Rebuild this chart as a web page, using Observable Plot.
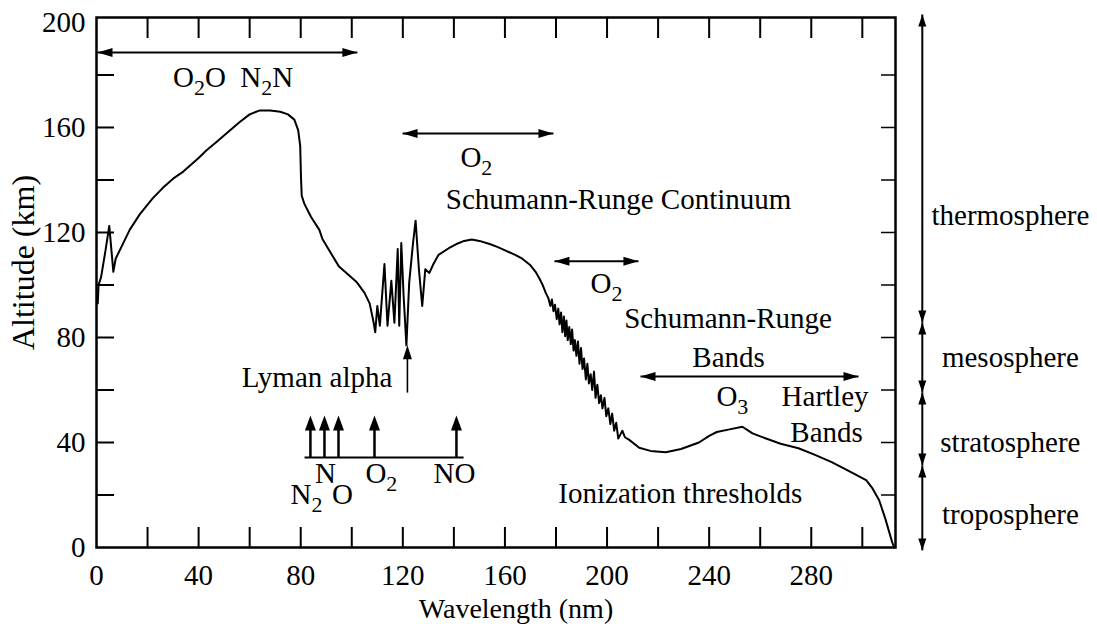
<!DOCTYPE html>
<html><head><meta charset="utf-8">
<script src="https://cdn.jsdelivr.net/npm/d3@7"></script>
<script src="https://cdn.jsdelivr.net/npm/@observablehq/plot@0.6"></script>
<style>html,body{margin:0;padding:0;background:#fff;overflow:hidden} svg{display:block}</style>
</head><body><div id="chart"></div>
<script>
// ---- data ----
const curveWavelength = [0.5,0.8,1.8,3.5,5.0,6.6,7.5,10,13,17,22,26,30,34,37,40,43,47,52,56,60,64,68,72,75,77.5,79,79.8,80.1,80.4,81.4,84,87.3,88.5,95,102,105,107,108.5,109.2,
  110,111,112.8,114,115.5,116.7,118,118.6,119.4,120.3,121.4,122.5,124,125,126.3,127.6,128.8,130.4,132,134,138,141,144,147,150,154,157,160.5,164,166.8,170,172,173.5,174.6,176,177,
  177.8,178.4,179,179.6,180.3,180.9,181.4,182,182.5,183.1,183.6,184.1,184.6,185.2,185.8,186.3,186.9,187.4,188,188.6,189.2,189.8,190.4,191,191.7,192.3,192.9,193.6,194.2,194.9,195.5,196.2,196.9,197.6,198.2,199,199.7,200.5,201.3,202,202.8,203.6,204.4,205.2,206,207,208.7,
  212.6,217,223,229,236,240,243,248,253,257,262,268,275,281,288,295,301.5,304,306.6,309,311.7,312.5];
const curveAltitude = [93,100,103,113,122.5,105,110,115,121,127,133,137,140.5,143.2,145.8,148.4,151.2,154.5,158.7,162,165,166.5,166.5,166,165,163,159,153,141,134,131,126,121,117.5,107,101,97,93,86,82,
  92,84.5,108,84.5,101.6,85.6,113.7,84.5,116,96,77,101,116,124.5,106,92,106,104.6,108,111.5,114,115.6,116.8,117.3,116.8,115.6,114.5,113,111.5,110,107.5,105,102.5,100.4,97,95,
  92,94.5,90,92.5,87,91,85,89.5,82,88,80.5,86.5,79,84,77.5,83,75,79,73,78.5,70,76,68,72,64,70,62.5,66,60,67,57,62,55,58,53,57,50,53,47,51,44.5,47.5,41.5,43,44.5,42,41,
  38,36.8,36.3,37.5,40,42.5,44,45,46,43.5,41.6,39.5,37.8,35.5,32.5,29,25.7,22.5,18,11,2,0];

const xTicks = [20,40,60,80,100,120,140,160,180,200,220,240,260,280,300];
const xTickLabels = [0,40,80,120,160,200,240,280];
const yTicks = [20,40,60,80,100,120,140,160,180];
const yTickLabels = [0,40,80,120,160,200];

// absorption band ranges (double arrows)
const bandStart = [0.4, 119.9, 179.4, 213.1];
const bandEnd   = [102.2, 179, 212.3, 298.5];
const bandAlt   = [188.6, 157.7, 109, 65.1];

// annotation texts
const noteText = ["O₂O  N₂N","O₂","Schumann-Runge Continuum","O₂","Schumann-Runge","Bands","O₃","Hartley","Bands","Ionization thresholds","Lyman alpha"];
const noteWl   = [53.5, 148.8, 204.5, 199.8, 247.4, 247.6, 249.1, 285.4, 286, 228.7, 86.4];
const noteAlt  = [179, 148.6, 132.6, 100.6, 87.2, 72.4, 57.5, 57.5, 43.6, 20.6, 64.8];

// Lyman alpha line
const lymanWl = 121.8, lymanFrom = 59, lymanTo = 77;

// ionization thresholds
const thresholdName = ["N₂","N","O","O₂","NO"];
const thresholdWl   = [83.8, 89.3, 94.8, 108.9, 141];
const thresholdLabelWl  = [82.3, 89.7, 96.4, 111.6, 140.2];
const thresholdLabelAlt = [20.2, 28.2, 20.2, 28.2, 28.2];
const thresholdBase = 34.3, thresholdTip = 50.3, thresholdSpan = [81.5, 143.8];

// atmospheric layers
const layerName   = ["thermosphere","mesosphere","stratosphere","troposphere"];
const layerTop    = [203, 85.7, 59, 31.2];
const layerBottom = [85.7, 59, 31.2, -1.1];
const layerLabelAlt = [126.5, 72.4, 40, 12.6];
const layerArrowWl = 323.5, layerLabelWl = 358;

// ---- arrowhead symbols ----
const head = (dir, L, W) => ({draw(c) {
  c.moveTo(0, 0);
  if (dir === "right") { c.lineTo(-L, -W); c.lineTo(-L, W); }
  if (dir === "left")  { c.lineTo(L, -W);  c.lineTo(L, W); }
  if (dir === "up")    { c.lineTo(-W, L);  c.lineTo(W, L); }
  if (dir === "down")  { c.lineTo(-W, -L); c.lineTo(W, -L); }
  c.closePath();
}});

const curve = curveWavelength.map((w, i) => ({w, a: curveAltitude[i]}));
const bands = bandStart.map((s, i) => ({s, e: bandEnd[i], a: bandAlt[i]}));
const notes = noteText.map((t, i) => ({t, w: noteWl[i], a: noteAlt[i]}));
const thr = thresholdName.map((n, i) => ({n, w: thresholdWl[i], lw: thresholdLabelWl[i], la: thresholdLabelAlt[i]}));
const layers = layerName.map((n, i) => ({n, top: layerTop[i], bottom: layerBottom[i], la: layerLabelAlt[i]}));

const FS = 29;
const chart = Plot.plot({
  width: 1097, height: 626,
  marginLeft: 96, marginRight: 202, marginTop: 17, marginBottom: 79,
  x: {domain: [0, 313]},
  y: {domain: [0, 201.9]},
  style: {fontFamily: "'Liberation Serif', 'DejaVu Serif', serif", fontSize: FS + "px", background: "white", color: "black"},
  marks: [
    // inward ticks
    Plot.axisX({ticks: xTicks, anchor: "bottom", tickSize: -20, strokeWidth: 2, fill: "none"}),
    Plot.axisX({ticks: xTicks, anchor: "top", tickSize: -20, strokeWidth: 2, fill: "none"}),
    Plot.axisY({ticks: yTicks, anchor: "left", tickSize: -18, strokeWidth: 2, fill: "none"}),
    Plot.axisY({ticks: yTicks, anchor: "right", tickSize: -15, strokeWidth: 1.5, fill: "none"}),
    // tick labels
    Plot.axisX({ticks: xTickLabels, anchor: "bottom", tickSize: 0, tickPadding: 17, label: null, fontSize: FS}),
    Plot.axisY({ticks: yTickLabels, anchor: "left", tickSize: 0, tickPadding: 11, label: null, fontSize: FS}),
    Plot.frame({strokeWidth: 2.5}),
    // axis titles
    Plot.text(["Altitude (km)"], {frameAnchor: "left", textAnchor: "middle", lineAnchor: "middle", dx: -73, dy: -20, rotate: -90, fontSize: 32}),
    Plot.text(["Wavelength (nm)"], {frameAnchor: "bottom", textAnchor: "middle", lineAnchor: "middle", dx: 20, dy: 62, fontSize: 28}),
    // absorption curve
    Plot.line(curve, {x: "w", y: "a", strokeWidth: 2, strokeLinejoin: "round"}),
    // band double arrows
    Plot.link(bands, {x1: "s", x2: "e", y1: "a", y2: "a", strokeWidth: 2}),
    Plot.dot(bands, {x: "s", y: "a", symbol: head("left", 15, 4.5), fill: "black", stroke: "none"}),
    Plot.dot(bands, {x: "e", y: "a", symbol: head("right", 15, 4.5), fill: "black", stroke: "none"}),
    // Lyman alpha arrow
    Plot.link([0], {x1: lymanWl, x2: lymanWl, y1: lymanFrom, y2: lymanTo - 2, strokeWidth: 1.6}),
    Plot.dot([0], {x: lymanWl, y: lymanTo, symbol: head("up", 14, 4.5), fill: "black", stroke: "none"}),
    // ionization thresholds
    Plot.link([0], {x1: thresholdSpan[0], x2: thresholdSpan[1], y1: thresholdBase, y2: thresholdBase, strokeWidth: 2}),
    Plot.link(thr, {x1: "w", x2: "w", y1: thresholdBase, y2: thresholdTip - 2, strokeWidth: 2.5}),
    Plot.dot(thr, {x: "w", y: thresholdTip, symbol: head("up", 15, 5.5), fill: "black", stroke: "none"}),
    Plot.text(thr, {x: "lw", y: "la", text: "n", fontSize: FS}),
    // annotations
    Plot.text(notes, {x: "w", y: "a", text: "t", fontSize: FS}),
    // atmospheric layers
    Plot.link(layers, {x1: layerArrowWl, x2: layerArrowWl, y1: "bottom", y2: "top", strokeWidth: 2}),
    Plot.dot(layers, {x: layerArrowWl, y: "top", symbol: head("up", 12, 4), fill: "black", stroke: "none"}),
    Plot.dot(layers, {x: layerArrowWl, y: "bottom", symbol: head("down", 12, 4), fill: "black", stroke: "none"}),
    Plot.text(layers, {x: layerLabelWl, y: "la", text: "n", fontSize: FS})
  ]
});

// render chemical subscripts as lowered, smaller digits
chart.querySelectorAll("text").forEach(t => {
  const s = t.textContent;
  if (!/[₂₃]/.test(s)) return;
  t.textContent = "";
  let shifted = false;
  for (const p of s.split(/([₂₃])/)) {
    if (!p) continue;
    const ts = document.createElementNS("http://www.w3.org/2000/svg", "tspan");
    if (p === "₂" || p === "₃") {
      ts.textContent = p === "₂" ? "2" : "3";
      ts.setAttribute("font-size", "22");
      ts.setAttribute("dy", "8");
      shifted = true;
    } else {
      ts.textContent = p;
      if (shifted) { ts.setAttribute("dy", "-8"); shifted = false; }
    }
    t.appendChild(ts);
  }
});

document.getElementById("chart").appendChild(chart);
</script>
</body></html>
